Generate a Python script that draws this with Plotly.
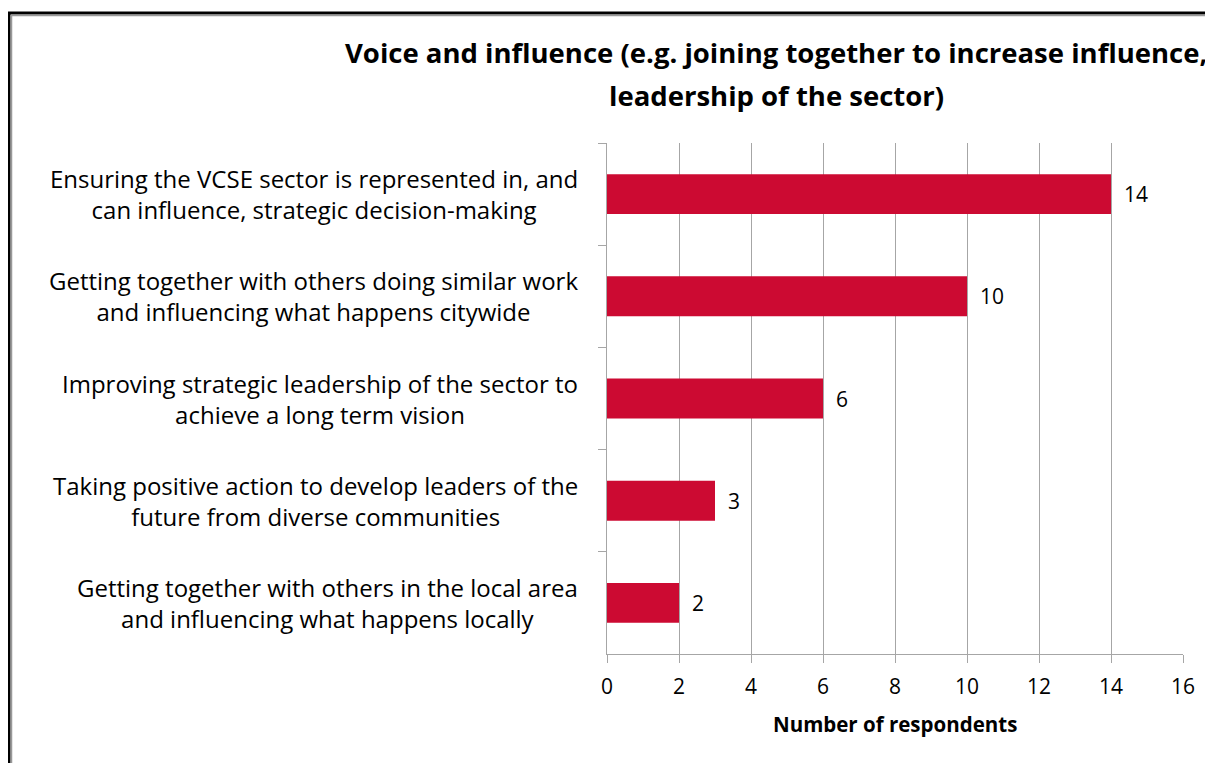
import plotly.graph_objects as go

categories = [
    "Ensuring the VCSE sector is represented in, and<br>can influence, strategic decision-making",
    "Getting together with others doing similar work<br>and influencing what happens citywide",
    "Improving strategic leadership of the sector to<br>achieve a long term vision",
    "Taking positive action to develop leaders of the<br>future from diverse communities",
    "Getting together with others in the local area<br>and influencing what happens locally",
]
values = [14, 10, 6, 3, 2]
x_ticks = [0, 2, 4, 6, 8, 10, 12, 14, 16]
title_lines = [
    "Voice and influence (e.g. joining together to increase influence,",
    "leadership of the sector)",
]
x_title = "Number of respondents"

OFF = 8  # page body margin
W, H = 1213 - OFF, 763 - OFF
L, R, T, B = 607 - OFF, 30, 143 - OFF, 109
PW, PH = W - L - R, H - T - B

def px(x):  # page pixel -> paper x
    return (x - OFF - L) / PW

def py(y):  # page pixel -> paper y
    return (H - B - (y - OFF)) / PH

FONT = "'Open Sans', Lato, sans-serif"
BAR = "#cc0a32"
GRID = "#a6a6a6"

fig = go.Figure(go.Bar(
    x=values, y=categories, orientation="h",
    marker=dict(color=BAR, line=dict(width=0)),
    hoverinfo="x+y",
))

ann = []
for c, v in zip(categories, values):
    ann.append(dict(x=0, y=c, xref="paper", yref="y", text=c, showarrow=False,
                    xanchor="right", align="center", xshift=-27,
                    font=dict(family=FONT, size=24, color="#000")))
    ann.append(dict(x=v, y=c, xref="x", yref="y", text=str(v), showarrow=False,
                    xanchor="left", xshift=11,
                    font=dict(family=FONT, size=21, color="#000")))

for line, ypix in zip(title_lines, [53, 95]):
    ann.append(dict(x=px(776), y=py(ypix), xref="paper", yref="paper", text="<b>%s</b>" % line,
                    showarrow=False, xanchor="center", yanchor="middle",
                    font=dict(family=FONT, size=27.5, color="#000")))

ann.append(dict(x=px(895), y=py(724), xref="paper", yref="paper", text="<b>%s</b>" % x_title,
                showarrow=False, xanchor="center", yanchor="middle",
                font=dict(family=FONT, size=20.5, color="#000")))

shapes = [
    dict(type="line", xref="paper", yref="paper", x0=px(8), x1=px(1220), y0=py(13), y1=py(13),
         line=dict(color="#000", width=3)),
    dict(type="line", xref="paper", yref="paper", x0=px(9), x1=px(9), y0=py(12), y1=py(770),
         line=dict(color="#000", width=3)),
    dict(type="line", xref="paper", yref="paper", x0=px(11), x1=px(1220), y0=py(15.5), y1=py(15.5),
         line=dict(color="#999", width=1.5)),
    dict(type="line", xref="paper", yref="paper", x0=px(11.5), x1=px(11.5), y0=py(15), y1=py(770),
         line=dict(color="#999", width=1.5)),
]

fig.update_layout(
    width=W, height=H,
    margin=dict(l=L, r=R, t=T, b=B, pad=0),
    paper_bgcolor="white", plot_bgcolor="white",
    bargap=0.61,
    showlegend=False,
    xaxis=dict(
        range=[0, 16], tickvals=x_ticks, ticktext=[str(t) for t in x_ticks],
        showgrid=True, gridcolor=GRID, gridwidth=1,
        showline=True, linecolor=GRID, linewidth=1,
        ticks="outside", ticklen=8, tickcolor=GRID,
        tickfont=dict(family=FONT, size=21, color="#000"),
        ticklabelstandoff=6,
        zeroline=False,
        fixedrange=True,
    ),
    yaxis=dict(
        categoryorder="array", categoryarray=categories, autorange="reversed",
        showticklabels=False, showgrid=False,
        showline=True, linecolor=GRID, linewidth=1,
        ticks="outside", ticklen=8, tickcolor=GRID, tickson="boundaries",
        zeroline=False, fixedrange=True,
    ),
    annotations=ann,
    shapes=shapes,
)

fig.write_html("out.html")
